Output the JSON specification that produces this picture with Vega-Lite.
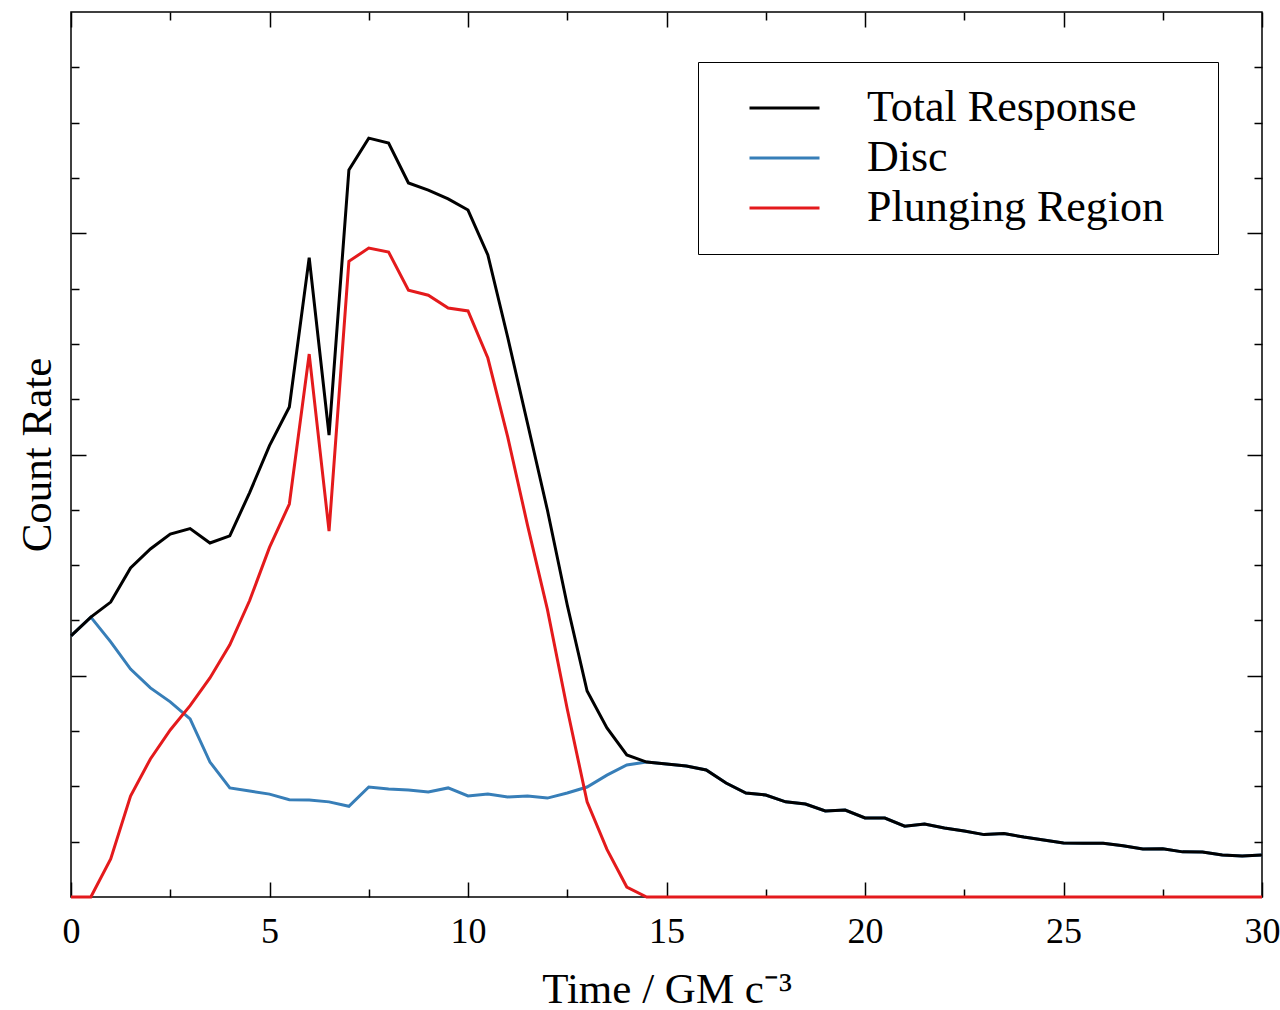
{
  "$schema": "https://vega.github.io/schema/vega-lite/v6.json",
  "width": 1191,
  "height": 885,
  "autosize": "none",
  "padding": {"left": 71, "top": 12, "right": 18, "bottom": 113},
  "background": "white",
  "config": {
    "view": {"stroke": "black", "strokeWidth": 1.5},
    "font": "Liberation Serif",
    "axis": {
      "domain": false,
      "grid": false,
      "tickColor": "black",
      "tickWidth": 1.5,
      "labelFont": "Liberation Serif",
      "labelFontSize": 36,
      "labelColor": "black",
      "titleFont": "Liberation Serif",
      "titleFontSize": 43,
      "titleFontWeight": "normal",
      "titleColor": "black"
    },
    "legend": {
      "labelFont": "Liberation Serif",
      "labelFontSize": 44,
      "labelColor": "black",
      "labelLimit": 600
    }
  },
  "datasets": {
    "curves": [
      {"t": 0, "value": 1.18, "series": "Disc"},
      {"t": 0.5, "value": 1.265, "series": "Disc"},
      {"t": 1, "value": 1.153, "series": "Disc"},
      {"t": 1.5, "value": 1.03, "series": "Disc"},
      {"t": 2, "value": 0.945, "series": "Disc"},
      {"t": 2.5, "value": 0.882, "series": "Disc"},
      {"t": 3, "value": 0.805, "series": "Disc"},
      {"t": 3.5, "value": 0.61, "series": "Disc"},
      {"t": 4, "value": 0.493, "series": "Disc"},
      {"t": 4.5, "value": 0.479, "series": "Disc"},
      {"t": 5, "value": 0.465, "series": "Disc"},
      {"t": 5.5, "value": 0.44, "series": "Disc"},
      {"t": 6, "value": 0.438, "series": "Disc"},
      {"t": 6.5, "value": 0.43, "series": "Disc"},
      {"t": 7, "value": 0.41, "series": "Disc"},
      {"t": 7.5, "value": 0.497, "series": "Disc"},
      {"t": 8, "value": 0.488, "series": "Disc"},
      {"t": 8.5, "value": 0.484, "series": "Disc"},
      {"t": 9, "value": 0.475, "series": "Disc"},
      {"t": 9.5, "value": 0.493, "series": "Disc"},
      {"t": 10, "value": 0.457, "series": "Disc"},
      {"t": 10.5, "value": 0.466, "series": "Disc"},
      {"t": 11, "value": 0.452, "series": "Disc"},
      {"t": 11.5, "value": 0.457, "series": "Disc"},
      {"t": 12, "value": 0.447, "series": "Disc"},
      {"t": 12.5, "value": 0.47, "series": "Disc"},
      {"t": 13, "value": 0.497, "series": "Disc"},
      {"t": 13.5, "value": 0.551, "series": "Disc"},
      {"t": 14, "value": 0.597, "series": "Disc"},
      {"t": 14.5, "value": 0.61, "series": "Disc"},
      {"t": 15, "value": 0.601, "series": "Disc"},
      {"t": 15.5, "value": 0.592, "series": "Disc"},
      {"t": 16, "value": 0.574, "series": "Disc"},
      {"t": 16.5, "value": 0.515, "series": "Disc"},
      {"t": 17, "value": 0.47, "series": "Disc"},
      {"t": 17.5, "value": 0.461, "series": "Disc"},
      {"t": 18, "value": 0.43, "series": "Disc"},
      {"t": 18.5, "value": 0.42, "series": "Disc"},
      {"t": 19, "value": 0.389, "series": "Disc"},
      {"t": 19.5, "value": 0.393, "series": "Disc"},
      {"t": 20, "value": 0.357, "series": "Disc"},
      {"t": 20.5, "value": 0.357, "series": "Disc"},
      {"t": 21, "value": 0.32, "series": "Disc"},
      {"t": 21.5, "value": 0.33, "series": "Disc"},
      {"t": 22, "value": 0.312, "series": "Disc"},
      {"t": 22.5, "value": 0.298, "series": "Disc"},
      {"t": 23, "value": 0.282, "series": "Disc"},
      {"t": 23.5, "value": 0.287, "series": "Disc"},
      {"t": 24, "value": 0.271, "series": "Disc"},
      {"t": 24.5, "value": 0.258, "series": "Disc"},
      {"t": 25, "value": 0.244, "series": "Disc"},
      {"t": 25.5, "value": 0.243, "series": "Disc"},
      {"t": 26, "value": 0.243, "series": "Disc"},
      {"t": 26.5, "value": 0.232, "series": "Disc"},
      {"t": 27, "value": 0.217, "series": "Disc"},
      {"t": 27.5, "value": 0.218, "series": "Disc"},
      {"t": 28, "value": 0.204, "series": "Disc"},
      {"t": 28.5, "value": 0.203, "series": "Disc"},
      {"t": 29, "value": 0.19, "series": "Disc"},
      {"t": 29.5, "value": 0.185, "series": "Disc"},
      {"t": 30, "value": 0.19, "series": "Disc"},
      {"t": 0, "value": 0, "series": "Plunging Region"},
      {"t": 0.5, "value": 0, "series": "Plunging Region"},
      {"t": 1, "value": 0.172, "series": "Plunging Region"},
      {"t": 1.5, "value": 0.456, "series": "Plunging Region"},
      {"t": 2, "value": 0.624, "series": "Plunging Region"},
      {"t": 2.5, "value": 0.755, "series": "Plunging Region"},
      {"t": 3, "value": 0.865, "series": "Plunging Region"},
      {"t": 3.5, "value": 0.99, "series": "Plunging Region"},
      {"t": 4, "value": 1.14, "series": "Plunging Region"},
      {"t": 4.5, "value": 1.34, "series": "Plunging Region"},
      {"t": 5, "value": 1.58, "series": "Plunging Region"},
      {"t": 5.5, "value": 1.776, "series": "Plunging Region"},
      {"t": 6, "value": 2.454, "series": "Plunging Region"},
      {"t": 6.5, "value": 1.654, "series": "Plunging Region"},
      {"t": 7, "value": 2.873, "series": "Plunging Region"},
      {"t": 7.5, "value": 2.933, "series": "Plunging Region"},
      {"t": 8, "value": 2.915, "series": "Plunging Region"},
      {"t": 8.5, "value": 2.743, "series": "Plunging Region"},
      {"t": 9, "value": 2.72, "series": "Plunging Region"},
      {"t": 9.5, "value": 2.662, "series": "Plunging Region"},
      {"t": 10, "value": 2.649, "series": "Plunging Region"},
      {"t": 10.5, "value": 2.436, "series": "Plunging Region"},
      {"t": 11, "value": 2.08, "series": "Plunging Region"},
      {"t": 11.5, "value": 1.68, "series": "Plunging Region"},
      {"t": 12, "value": 1.3, "series": "Plunging Region"},
      {"t": 12.5, "value": 0.85, "series": "Plunging Region"},
      {"t": 13, "value": 0.43, "series": "Plunging Region"},
      {"t": 13.5, "value": 0.215, "series": "Plunging Region"},
      {"t": 14, "value": 0.045, "series": "Plunging Region"},
      {"t": 14.5, "value": 0, "series": "Plunging Region"},
      {"t": 15, "value": 0, "series": "Plunging Region"},
      {"t": 20, "value": 0, "series": "Plunging Region"},
      {"t": 25, "value": 0, "series": "Plunging Region"},
      {"t": 30, "value": 0, "series": "Plunging Region"},
      {"t": 0, "value": 1.18, "series": "Total Response"},
      {"t": 0.5, "value": 1.265, "series": "Total Response"},
      {"t": 1, "value": 1.333, "series": "Total Response"},
      {"t": 1.5, "value": 1.487, "series": "Total Response"},
      {"t": 2, "value": 1.573, "series": "Total Response"},
      {"t": 2.5, "value": 1.64, "series": "Total Response"},
      {"t": 3, "value": 1.665, "series": "Total Response"},
      {"t": 3.5, "value": 1.6, "series": "Total Response"},
      {"t": 4, "value": 1.632, "series": "Total Response"},
      {"t": 4.5, "value": 1.828, "series": "Total Response"},
      {"t": 5, "value": 2.04, "series": "Total Response"},
      {"t": 5.5, "value": 2.215, "series": "Total Response"},
      {"t": 6, "value": 2.89, "series": "Total Response"},
      {"t": 6.5, "value": 2.088, "series": "Total Response"},
      {"t": 7, "value": 3.286, "series": "Total Response"},
      {"t": 7.5, "value": 3.43, "series": "Total Response"},
      {"t": 8, "value": 3.408, "series": "Total Response"},
      {"t": 8.5, "value": 3.227, "series": "Total Response"},
      {"t": 9, "value": 3.195, "series": "Total Response"},
      {"t": 9.5, "value": 3.155, "series": "Total Response"},
      {"t": 10, "value": 3.105, "series": "Total Response"},
      {"t": 10.5, "value": 2.902, "series": "Total Response"},
      {"t": 11, "value": 2.53, "series": "Total Response"},
      {"t": 11.5, "value": 2.14, "series": "Total Response"},
      {"t": 12, "value": 1.749, "series": "Total Response"},
      {"t": 12.5, "value": 1.32, "series": "Total Response"},
      {"t": 13, "value": 0.931, "series": "Total Response"},
      {"t": 13.5, "value": 0.764, "series": "Total Response"},
      {"t": 14, "value": 0.642, "series": "Total Response"},
      {"t": 14.5, "value": 0.61, "series": "Total Response"},
      {"t": 15, "value": 0.601, "series": "Total Response"},
      {"t": 15.5, "value": 0.592, "series": "Total Response"},
      {"t": 16, "value": 0.574, "series": "Total Response"},
      {"t": 16.5, "value": 0.515, "series": "Total Response"},
      {"t": 17, "value": 0.47, "series": "Total Response"},
      {"t": 17.5, "value": 0.461, "series": "Total Response"},
      {"t": 18, "value": 0.43, "series": "Total Response"},
      {"t": 18.5, "value": 0.42, "series": "Total Response"},
      {"t": 19, "value": 0.389, "series": "Total Response"},
      {"t": 19.5, "value": 0.393, "series": "Total Response"},
      {"t": 20, "value": 0.357, "series": "Total Response"},
      {"t": 20.5, "value": 0.357, "series": "Total Response"},
      {"t": 21, "value": 0.32, "series": "Total Response"},
      {"t": 21.5, "value": 0.33, "series": "Total Response"},
      {"t": 22, "value": 0.312, "series": "Total Response"},
      {"t": 22.5, "value": 0.298, "series": "Total Response"},
      {"t": 23, "value": 0.282, "series": "Total Response"},
      {"t": 23.5, "value": 0.287, "series": "Total Response"},
      {"t": 24, "value": 0.271, "series": "Total Response"},
      {"t": 24.5, "value": 0.258, "series": "Total Response"},
      {"t": 25, "value": 0.244, "series": "Total Response"},
      {"t": 25.5, "value": 0.243, "series": "Total Response"},
      {"t": 26, "value": 0.243, "series": "Total Response"},
      {"t": 26.5, "value": 0.232, "series": "Total Response"},
      {"t": 27, "value": 0.217, "series": "Total Response"},
      {"t": 27.5, "value": 0.218, "series": "Total Response"},
      {"t": 28, "value": 0.204, "series": "Total Response"},
      {"t": 28.5, "value": 0.203, "series": "Total Response"},
      {"t": 29, "value": 0.19, "series": "Total Response"},
      {"t": 29.5, "value": 0.185, "series": "Total Response"},
      {"t": 30, "value": 0.19, "series": "Total Response"}
    ]
  },
  "data": {"name": "curves"},
  "resolve": {"axis": {"x": "independent", "y": "independent"}},
  "layer": [
    {
      "transform": [{"filter": "datum.series === 'Disc' && datum.t <= 14.5"}],
      "mark": {"type": "line", "strokeWidth": 3, "clip": false},
      "encoding": {
        "x": {
          "field": "t", "type": "quantitative",
          "scale": {"domain": [0, 30], "nice": false, "zero": false},
          "axis": {
            "orient": "bottom",
            "title": "Time / GM c⁻³",
            "titlePadding": 19,
            "values": [0, 5, 10, 15, 20, 25, 30],
            "labelPadding": 32,
            "labelFlush": false,
            "labelOverlap": false,
            "tickSize": -15
          }
        },
        "y": {
          "field": "value", "type": "quantitative",
          "scale": {"domain": [0, 4], "nice": false},
          "axis": {
            "orient": "left",
            "title": "Count Rate",
            "titlePadding": 11,
            "labels": false,
            "values": [1, 2, 3],
            "tickSize": -15
          }
        },
        "color": {
          "field": "series", "type": "nominal",
          "scale": {
            "domain": ["Total Response", "Disc", "Plunging Region"],
            "range": ["#000000", "#377eb8", "#e41a1c"]
          },
          "legend": {
            "title": null,
            "orient": "none",
            "legendX": 627,
            "legendY": 50,
            "strokeColor": "black",
            "fillColor": "white",
            "padding": 21,
            "symbolType": "stroke",
            "symbolSize": 4900,
            "symbolStrokeWidth": 3,
            "symbolOffset": 29,
            "labelOffset": 46,
            "rowPadding": 0,
            "clipHeight": 50,
            "labelExpr": "datum.label + '\u2800'"
          }
        }
      }
    },
    {
      "transform": [{"filter": "datum.series === 'Disc' && datum.t >= 14.5"}],
      "mark": {"type": "line", "strokeWidth": 3, "clip": false},
      "encoding": {
        "x": {
          "field": "t", "type": "quantitative",
          "axis": {
            "orient": "bottom",
            "title": null,
            "labels": false,
            "values": [2.5, 7.5, 12.5, 17.5, 22.5, 27.5],
            "tickSize": -8
          }
        },
        "y": {
          "field": "value", "type": "quantitative",
          "axis": {
            "orient": "left",
            "title": null,
            "labels": false,
            "values": [0.25, 0.5, 0.75, 1.25, 1.5, 1.75, 2.25, 2.5, 2.75, 3.25, 3.5, 3.75],
            "tickSize": -8
          }
        },
        "color": {"field": "series", "type": "nominal"}
      }
    },
    {
      "transform": [{"filter": "datum.series === 'Plunging Region'"}],
      "mark": {"type": "line", "strokeWidth": 3, "clip": false},
      "encoding": {
        "x": {
          "field": "t", "type": "quantitative",
          "axis": {
            "orient": "top",
            "title": null,
            "labels": false,
            "values": [0, 5, 10, 15, 20, 25, 30],
            "tickSize": -15
          }
        },
        "y": {
          "field": "value", "type": "quantitative",
          "axis": {
            "orient": "right",
            "title": null,
            "labels": false,
            "values": [1, 2, 3],
            "tickSize": -15
          }
        },
        "color": {"field": "series", "type": "nominal"}
      }
    },
    {
      "transform": [{"filter": "datum.series === 'Total Response'"}],
      "mark": {"type": "line", "strokeWidth": 3, "clip": false},
      "encoding": {
        "x": {
          "field": "t", "type": "quantitative",
          "axis": {
            "orient": "top",
            "title": null,
            "labels": false,
            "values": [2.5, 7.5, 12.5, 17.5, 22.5, 27.5],
            "tickSize": -8
          }
        },
        "y": {
          "field": "value", "type": "quantitative",
          "axis": {
            "orient": "right",
            "title": null,
            "labels": false,
            "values": [0.25, 0.5, 0.75, 1.25, 1.5, 1.75, 2.25, 2.5, 2.75, 3.25, 3.5, 3.75],
            "tickSize": -8
          }
        },
        "color": {"field": "series", "type": "nominal"}
      }
    }
  ]
}
